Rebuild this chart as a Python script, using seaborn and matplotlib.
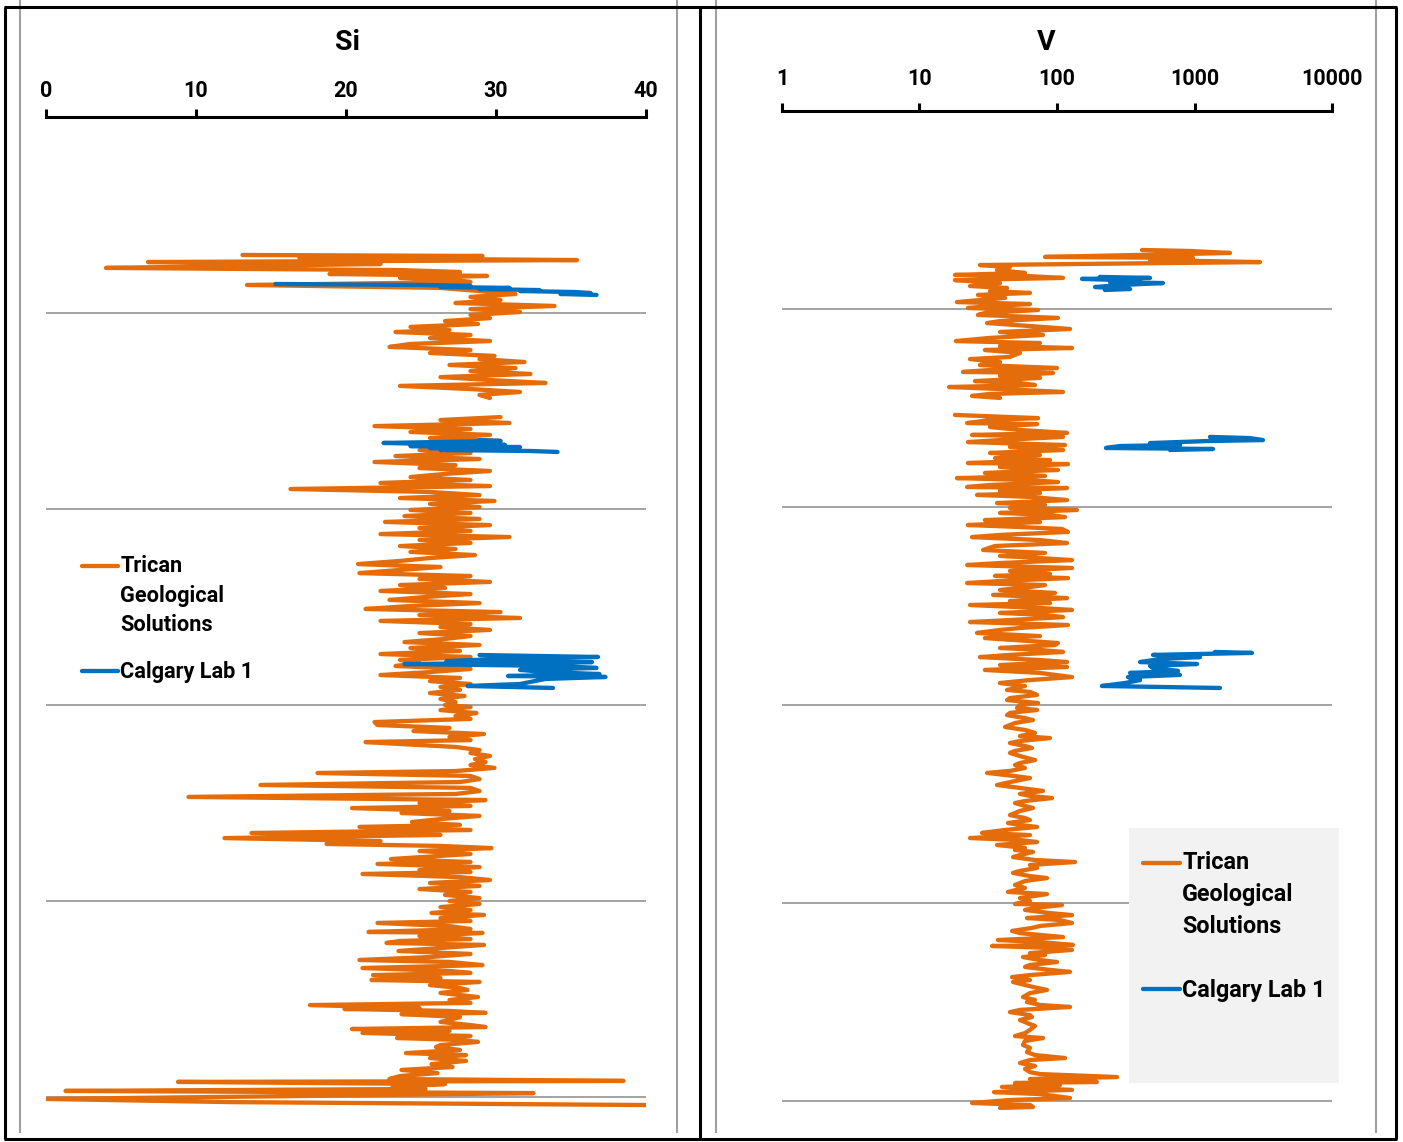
import numpy as np
import pandas as pd
import matplotlib
matplotlib.use("Agg")
import matplotlib.pyplot as plt
import seaborn as sns
from matplotlib.lines import Line2D
from matplotlib.patches import Rectangle
from matplotlib.legend_handler import HandlerLine2D
from matplotlib.ticker import NullLocator

nan = np.nan

# ---------------- data (depth, unitless) ----------------
series_names = ["Trican\nGeological\nSolutions", "Calgary Lab 1"]

si_ticks = [0, 10, 20, 30, 40]
v_ticks = [1, 10, 100, 1000, 10000]
depth_grid = [100, 200, 300, 400, 500]

si_tgs_depth = [
    70.4, 70.9, 71.9, 73.0, 74.0, 75.0, 76.0, 77.0, 78.1, 79.1,
    80.1, 81.1, 82.1, 83.2, 84.2, 85.7, 87.2, 88.8, 90.3, 91.8,
    93.4, 94.9, 96.4, 98.0, 99.5, 101.0, 102.6, 104.1, 105.6, 107.1,
    108.7, 109.7, 111.2, 112.8, 114.3, 115.8, 117.3, 118.9, 120.4, 121.9,
    123.5, 125.0, 126.5, 128.1, 129.6, 131.1, 132.7, 134.2, 135.7, 137.2,
    138.8, 140.3, 141.8, 143.4, nan,
    153.1, 154.6, 156.1, 157.7, 159.2, 160.7, 162.2, 163.8, 165.3, 166.8,
    168.4, 169.9, 171.4, 173.0, 174.5, 176.0, 177.6, 179.1, 180.6, 182.1,
    183.7, 185.2, 186.7, 188.3, 189.8, 191.3, 192.9, 194.4, 195.9, 197.4,
    199.0, 200.5, 202.0, 203.6, 205.1, 206.6, 208.2, 209.7, 211.2, 212.8,
    214.3, 215.8, 217.3, 218.9, 220.4, 221.9, 223.5, 225.0, 226.5, 228.1,
    229.6, 231.1, 232.7, 234.2, 235.7, 237.2, 238.8, 240.3, 241.8, 243.4,
    244.9, 246.4, 248.0, 249.5, 251.0, 252.6, 254.1, 255.6, 257.1, 258.7,
    260.2, 261.7, 263.3, 264.8, 266.3, 267.9, 269.4, 270.9, 272.4, 274.0,
    275.5, 277.0, 278.6, 280.1, 281.6, 283.2, 284.7, 286.2, 287.8, 289.3,
    290.8, 292.3, 293.9, 295.4, 296.9, 298.5, 300.0, 301.0, 302.6, 304.1,
    305.6, 307.1, 308.7, 310.2, 311.7, 313.3, 314.8, 316.3, 317.9, 318.9,
    319.9, 321.4, 323.0, 324.5, 326.0, 327.6, 329.1, 330.6, 332.1, 333.7,
    334.7, 336.2, 337.8, 339.3, 340.8, 342.3, 343.9, 345.4, 346.9, 348.5,
    350.0, 351.5, 352.6, 354.1, 355.1, 356.6, 358.2, 359.7, 361.2, 362.2,
    363.8, 365.3, 366.3, 367.9, 369.4, 370.9, 371.9, 373.0, 374.5, 376.0,
    377.0, 378.6, 380.1, 381.1, 382.7, 384.2, 385.2, 386.2, 387.8, 389.3,
    390.8, 392.3, 393.9, 395.4, 396.9, 398.5, 400.0, 401.5, 403.1, 404.6,
    406.1, 407.1, 408.7, 410.2, 411.2, 412.8, 414.3, 415.8, 416.3, 417.9,
    419.4, 420.4, 421.4, 422.4, 424.0, 425.5, 427.0, 428.6, 430.1, 431.1,
    432.7, 434.2, 435.7, 436.7, 437.8, 439.3, 440.3, 441.3, 442.9, 444.4,
    445.4, 446.9, 449.0, 450.5, 452.0, 453.1, 454.6, 455.1, 456.1, 457.1,
    457.7, 459.2, 460.7, 461.7, 463.3, 464.3, 465.3, 466.3, 467.3, 468.9,
    469.9, 470.9, 471.9, 473.5, 474.5, 476.0, 477.6, 478.6, 480.1, 481.6,
    483.2, 484.7, 486.2, 487.8, 489.3, 490.8, 491.8, 492.3, 493.4, 494.9,
    495.9, 496.9, 498.0, 499.5, 501.0, 502.6, 504.1,
]
si_tgs = [
    13.1, 29.1, 16.9, 35.4, 6.8, 22.3, 12.9, 4.0, 23.6, 27.6,
    18.9, 29.4, 23.6, 27.3, 28.3, 13.4, 26.3, 28.9, 31.3, 28.3,
    30.3, 27.3, 33.9, 28.3, 31.6, 28.3, 29.6, 26.6, 28.8, 24.3,
    26.9, 23.3, 28.3, 25.6, 29.6, 24.3, 22.9, 28.3, 25.6, 29.9,
    28.9, 31.9, 26.9, 31.3, 28.3, 32.3, 26.3, 29.6, 33.3, 23.6,
    28.3, 31.6, 28.9, 29.6, nan,
    30.3, 26.3, 30.9, 21.9, 28.3, 24.3, 29.6, 25.6, 30.3, 24.3,
    27.6, 24.9, 28.3, 23.3, 28.9, 21.9, 27.3, 24.9, 29.6, 26.6,
    24.3, 28.3, 22.3, 29.6, 16.3, 25.6, 28.9, 23.6, 29.9, 25.6,
    28.9, 24.3, 28.3, 23.9, 28.9, 22.6, 29.6, 24.9, 28.3, 22.3,
    30.9, 24.9, 28.3, 23.6, 27.3, 24.3, 28.6, 25.6, 23.6, 20.8,
    26.3, 23.6, 20.9, 28.3, 24.9, 29.6, 23.6, 26.6, 22.3, 28.3,
    25.3, 22.9, 28.9, 24.3, 21.3, 30.3, 24.9, 31.6, 22.3, 28.3,
    26.3, 29.6, 24.9, 28.3, 26.6, 23.9, 28.9, 24.3, 27.6, 22.3,
    28.3, 23.6, 24.9, 23.3, 28.3, 25.6, 22.3, 27.6, 25.6, 28.3,
    26.3, 27.6, 25.6, 27.9, 26.3, 27.3, 26.6, 28.3, 26.3, 28.7,
    27.3, 28.3, 21.9, 22.1, 26.9, 24.5, 29.2, 26.9, 28.3, 21.3,
    23.6, 27.3, 28.9, 28.3, 29.6, 28.6, 29.3, 28.3, 29.9, 27.3,
    18.1, 28.3, 28.9, 27.6, 14.3, 28.3, 28.9, 27.3, 9.5, 29.3,
    24.9, 28.3, 20.4, 26.9, 23.7, 28.9, 26.3, 24.4, 27.6, 20.9,
    28.3, 13.7, 26.3, 11.9, 22.3, 18.7, 26.3, 29.7, 24.9, 28.3,
    26.3, 23.0, 28.3, 22.1, 28.9, 24.9, 28.3, 21.1, 27.6, 29.6,
    25.6, 28.9, 24.9, 28.3, 26.6, 28.9, 26.9, 28.9, 26.3, 28.3,
    25.7, 29.2, 26.3, 28.3, 22.1, 26.9, 28.3, 21.5, 29.1, 24.9,
    28.3, 23.6, 22.7, 29.2, 26.3, 23.5, 28.3, 25.6, 20.9, 26.9,
    29.1, 21.1, 26.9, 28.3, 21.8, 26.3, 21.7, 28.9, 25.6, 27.6,
    28.1, 26.3, 28.8, 26.9, 28.3, 17.6, 24.9, 19.9, 26.9, 29.3,
    23.7, 27.6, 26.9, 26.3, 28.3, 29.3, 20.4, 26.9, 21.1, 28.3,
    23.4, 27.6, 28.8, 26.3, 26.0, 27.6, 24.0, 28.0, 25.6, 28.0,
    25.7, 27.1, 23.7, 26.1, 23.6, 22.9, 38.5, 8.8, 26.6, 23.1,
    25.3, 1.3, 32.5, 16.9, 0.0, 12.3, 40.0,
]

si_lab_depth = [
    85.2, 85.7, 86.2, 86.7, 87.2, 87.8, 88.3, 88.8, 89.3, 89.8, 90.3, 90.8, nan,
    164.8, 165.3, 166.3, 166.8, 167.3, 167.9, 168.4, 168.9, 169.4, 169.9, 170.4, 170.9, nan,
    274.5, 275.5, 276.5, 277.6, 278.1, 279.1, 280.1, 281.1, 282.1, 283.2, 284.2, 285.2,
    285.7, 286.7, 289.3, 290.3, 291.3,
]
si_lab = [
    15.3, 24.9, 28.3, 26.3, 30.9, 28.9, 32.9, 31.6, 35.3, 36.3, 34.3, 36.7, nan,
    28.9, 30.3, 22.5, 25.6, 30.6, 24.3, 31.6, 25.6, 30.9, 26.3, 32.3, 34.1, nan,
    28.9, 36.8, 30.3, 26.7, 36.4, 23.9, 34.3, 36.7, 31.6, 33.4, 36.9, 30.8,
    37.3, 33.3, 31.6, 28.1, 33.8,
]

v_tgs_depth = [
    70.2, 70.7, 71.7, 72.7, 73.7, 74.2, 75.3, 76.3, 77.8, 78.8,
    80.3, 81.8, 82.8, 83.3, 84.3, 85.4, 86.9, 88.4, 89.4, 90.9,
    91.9, 92.9, 94.4, 96.5, 97.5, 98.5, 99.5, 100.5, 102.0, 103.0,
    104.5, 106.1, 107.1, 108.6, 110.1, 111.6, 113.1, 114.6, 116.2, 117.2,
    118.7, 119.7, 120.7, 122.2, 124.2, 125.3, 126.8, 128.3, 129.8, 130.8,
    131.8, 132.3, 133.8, 134.8, 136.4, 137.4, 138.4, 139.4, 140.4, 141.9,
    142.9, 143.9, 144.9, nan,
    153.5, 154.0, 155.1, 156.1, 157.6, 158.1, 159.6, 161.1, 162.6, 163.6,
    164.6, 166.2, 167.2, 168.7, 169.7, 171.2, 172.7, 173.7, 175.3, 176.3,
    177.8, 178.3, 179.8, 181.3, 182.8, 184.3, 185.4, 186.4, 187.4, 188.9,
    189.9, 190.4, 191.9, 192.9, 193.9, 194.9, 196.5, 198.0, 199.0, 200.5,
    201.5, 203.0, 204.0, 205.1, 206.6, 207.6, 209.1, 210.1, 211.1, 212.6,
    214.1, 215.2, 216.7, 218.2, 219.7, 221.7, 223.2, 224.7, 225.8, 226.8,
    228.3, 229.3, 230.8, 232.3, 233.8, 234.8, 235.9, 237.4, 238.4, 239.4,
    240.4, 241.9, 243.4, 244.4, 246.0, 247.5, 248.5, 249.5, 251.0, 252.0,
    253.5, 254.5, 255.6, 257.1, 258.1, 259.6, 261.1, 262.1, 263.6, 265.2,
    266.2, 267.7, 268.7, 269.7, 271.2, 272.2, 273.2, 274.7, 275.8, 277.3,
    278.3, 279.8, 280.8, 282.3, 283.8, 285.9, 287.4, 288.9, 290.4, 292.4,
    293.4, 294.9, 296.5, 297.5, 299.0, 300.0, 301.5, 302.5, 304.0, 305.1,
    306.6, 307.6, 309.1, 311.1, 312.6, 314.1, 315.7, 316.7, 318.2, 319.2,
    320.7, 321.7, 323.2, 324.2, 325.8, 327.8, 329.3, 330.3, 331.8, 333.3,
    334.3, 335.9, 336.9, 338.4, 340.4, 341.9, 343.4, 344.9, 345.9, 347.0,
    348.5, 349.5, 351.0, 352.0, 353.5, 355.6, 357.1, 358.1, 359.6, 360.6,
    361.6, 363.1, 364.6, 365.7, 367.2, 368.2, 369.2, 370.7, 372.2, 373.2,
    374.2, 375.8, 376.8, 378.3, 379.3, 380.8, 382.3, 383.8, 384.8, 386.4,
    387.4, 388.9, 390.9, 392.4, 394.4, 395.5, 397.5, 399.0, 400.5, 401.0,
    402.5, 403.5, 405.1, 406.1, 407.6, 408.6, 410.1, 411.6, 412.6, 414.1,
    415.2, 417.2, 418.7, 419.7, 421.2, 421.7, 422.7, 423.7, 425.3, 426.3,
    427.3, 428.8, 429.8, 431.3, 432.3, 433.8, 434.8, 436.4, 437.4, 438.9,
    439.9, 441.4, 442.4, 443.9, 445.5, 447.5, 449.0, 450.0, 451.5, 452.5,
    454.0, 455.1, 456.6, 457.6, 459.1, 460.6, 462.1, 464.1, 465.7, 467.2,
    468.2, 469.7, 471.7, 473.2, 475.3, 476.8, 478.3, 479.3, 480.8, 482.3,
    483.8, 485.4, 486.4, 487.9, 488.9, 490.4, 490.9, 491.9, 492.9, 494.4,
    495.5, 496.5, 498.5, 499.5, 501.0, 502.0, 503.0, 503.5,
]
v_tgs = [
    415, 927, 1811, 402, 81.8, 975, 475, 2994, 27.5, 45.5,
    36.6, 58.5, 18.1, 58.5, 110.6, 18.1, 38.5, 23.3, 43.3, 32.6,
    63.6, 26.6, 41.9, 18.7, 63.6, 32.6, 22.5, 72.8, 29.9, 26.6,
    101.7, 38.5, 31.0, 63.6, 124.4, 38.5, 79.1, 32.6, 18.4, 75.2,
    38.5, 128.5, 29.9, 53.8, 45.5, 23.3, 38.5, 27.5, 100, 32.6,
    20.7, 93.5, 38.5, 75.2, 25.3, 53.8, 69.2, 16.4, 38.5, 110.6,
    32.6, 24.1, 38.5, nan,
    18.1, 27.5, 72.8, 32.6, 22.2, 71.6, 32.6, 53.8, 118.3, 24.1,
    110.6, 38.5, 22.5, 114.4, 45.5, 110.6, 32.6, 75.2, 35.4, 89.0,
    22.5, 120.2, 38.5, 101.7, 29.9, 81.8, 18.7, 63.6, 101.7, 32.6,
    22.2, 118.3, 38.5, 75.2, 26.2, 63.6, 118.3, 36.6, 81.8, 45.5,
    139.6, 38.5, 89.0, 114.4, 29.9, 75.2, 22.5, 53.8, 108.7, 120.2,
    38.5, 24.1, 75.2, 118.3, 35.4, 29.0, 81.8, 38.5, 75.2, 128.5,
    38.5, 22.2, 128.5, 45.5, 89.0, 35.4, 120.2, 38.5, 22.2, 81.8,
    63.6, 38.5, 96.7, 34.3, 118.3, 45.5, 89.0, 23.3, 75.2, 128.5,
    38.5, 81.8, 110.6, 45.5, 23.3, 120.2, 53.8, 38.5, 26.2, 75.2,
    29.9, 63.6, 101.7, 96.7, 38.5, 75.2, 110.6, 45.5, 27.5, 75.2,
    118.3, 38.5, 118.3, 29.9, 75.2, 128.5, 63.6, 38.5, 58.5, 43.3,
    63.6, 71.6, 45.5, 43.3, 72.8, 53.8, 51.2, 71.6, 45.5, 43.3,
    58.5, 66.9, 49.5, 41.9, 58.5, 69.2, 53.8, 89.0, 53.8, 45.5,
    58.5, 65.8, 49.5, 45.5, 53.8, 69.2, 53.8, 49.5, 58.5, 45.5,
    31.0, 49.5, 63.6, 49.5, 36.6, 53.8, 79.1, 53.8, 63.6, 92.0,
    58.5, 49.5, 58.5, 66.9, 53.8, 45.5, 58.5, 63.6, 44.0, 53.8,
    71.6, 41.9, 28.5, 63.6, 23.3, 53.8, 71.6, 36.6, 58.5, 49.5,
    66.9, 53.8, 47.9, 69.2, 135.2, 63.6, 71.6, 53.8, 47.9, 63.6,
    84.6, 58.5, 49.5, 58.5, 44.0, 84.6, 53.8, 63.6, 49.5, 108.7,
    69.2, 58.5, 89.0, 128.5, 60.5, 105.2, 128.5, 75.2, 65.8, 47.1,
    53.8, 110.6, 37.2, 75.2, 130.6, 33.7, 89.0, 128.5, 63.6, 81.8,
    56.6, 75.2, 100, 63.6, 58.5, 89.0, 124.4, 63.6, 47.1, 63.6,
    47.9, 58.5, 66.9, 84.6, 63.6, 56.6, 69.2, 60.5, 75.2, 124.4,
    53.8, 45.5, 63.6, 65.8, 53.8, 60.5, 69.2, 63.6, 58.5, 49.5,
    79.1, 58.5, 56.6, 63.6, 60.5, 69.2, 114.4, 63.6, 53.8, 69.2,
    58.5, 63.6, 75.2, 273, 63.6, 195, 49.5, 105.2, 39.8, 128.5,
    34.8, 75.2, 124.4, 45.5, 24.1, 63.6, 66.9, 38.5,
]

v_lab_depth = [
    83.8, 84.3, 84.8, 85.4, 85.9, 86.4, 86.9, 87.9, 88.9, 89.9, 90.4, nan,
    164.6, 165.2, 166.2, 166.7, 167.7, 168.7, 169.2, 170.2, 170.7, 171.2, nan,
    273.2, 273.7, 274.7, 275.8, 276.8, 278.3, 279.3, 280.3, 281.3, 282.8, 283.8,
    284.8, 285.9, 287.4, 288.9, 290.4, 291.4,
]
v_lab = [
    205, 475, 152, 287, 402, 243, 590, 287, 189, 340, 223, nan,
    1297, 2535, 3148, 1233, 475, 784, 287, 227, 1364, 663, nan,
    1409, 2620, 499, 1097, 561, 402, 1043, 475, 499, 759, 340,
    784, 328, 402, 312, 212, 1531,
]

# ---------------- styling ----------------
sns.set_theme(style="white")
FONT = ["Roboto", "DejaVu Sans"]
plt.rcParams["font.family"] = FONT
plt.rcParams["font.weight"] = "bold"
plt.rcParams["text.color"] = "black"
plt.rcParams["xtick.color"] = "black"
plt.rcParams["axes.labelcolor"] = "black"

ORANGE = "#E46C0A"
BLUE = "#0070C0"
GRID = "#8a8a8a"
LW = 3.1

W, H = 1403, 1142
fig = plt.figure(figsize=(W / 100, H / 100), dpi=100)
fig.patch.set_facecolor("white")


def fx(x):
    return x / W


def fy(y):
    return 1 - y / H


def make_df(depth, vals, name):
    d = np.asarray(depth, float)
    v = np.asarray(vals, float)
    seg = np.cumsum(np.isnan(d))
    m = ~np.isnan(d)
    return pd.DataFrame({"depth": d[m], "value": v[m], "source": name, "seg": seg[m]})


palette = {series_names[0]: ORANGE, series_names[1]: BLUE}
YMAX = 506


def panel(ax, df, ticks, labels, pad, log=False):
    sns.lineplot(data=df, x="value", y="depth", hue="source", units="seg",
                 estimator=None, sort=False, palette=palette, linewidth=LW,
                 legend=False, ax=ax, solid_capstyle="round", solid_joinstyle="round")
    if log:
        ax.set_xscale("log")
    ax.set_xlim(ticks[0], ticks[-1])
    ax.set_ylim(YMAX, 0)
    ax.set_xticks(ticks)
    ax.set_xticklabels(labels)
    if log:
        ax.xaxis.set_minor_locator(NullLocator())
    ax.set_yticks(depth_grid)
    ax.set_xlabel("")
    ax.set_ylabel("")
    ax.set_facecolor("none")
    for s in ["left", "right", "bottom"]:
        ax.spines[s].set_visible(False)
    ax.spines["top"].set_visible(True)
    ax.spines["top"].set_color("black")
    ax.spines["top"].set_linewidth(2.2)
    ax.xaxis.set_ticks_position("top")
    ax.tick_params(axis="x", which="major", direction="out", length=6, width=2.2,
                   top=True, bottom=False, labeltop=True, labelbottom=False,
                   labelsize=15.5, pad=pad)
    ax.tick_params(axis="y", length=0, labelleft=False)
    ax.grid(False)
    ax.yaxis.grid(True, color=GRID, linewidth=1.1)
    ax.set_axisbelow(True)
    for t in ax.get_xticklabels():
        t.set_fontweight("bold")


# left panel (Si)
ax1 = fig.add_axes([fx(46), fy(117 + YMAX * 1.96), 600 / W, YMAX * 1.96 / H])
df_si = pd.concat([make_df(si_tgs_depth, si_tgs, series_names[0]),
                   make_df(si_lab_depth, si_lab, series_names[1])], ignore_index=True)
panel(ax1, df_si, si_ticks, [str(t) for t in si_ticks], pad=5)

# right panel (V)
ax2 = fig.add_axes([fx(782), fy(111 + YMAX * 1.98), 550 / W, YMAX * 1.98 / H])
df_v = pd.concat([make_df(v_tgs_depth, v_tgs, series_names[0]),
                  make_df(v_lab_depth, v_lab, series_names[1])], ignore_index=True)
panel(ax2, df_v, v_ticks, [str(t) for t in v_ticks], pad=9, log=True)

# titles
fig.text(fx(347), fy(43), "Si", ha="center", va="center", fontsize=20.5, fontweight="bold")
fig.text(fx(1046), fy(43), "V", ha="center", va="center", fontsize=20.5, fontweight="bold")


# frame decorations (table / chart borders)
def fline(x0, y0, x1, y1, color, lw):
    fig.add_artist(Line2D([fx(x0), fx(x1)], [fy(y0), fy(y1)], transform=fig.transFigure,
                          color=color, linewidth=lw, solid_capstyle="butt"))


FRAME = "#a0a0a0"
for xg in (20, 677, 716, 1376):
    fline(xg, 0, xg, 1133, FRAME, 1.5)
fline(4, 7, 1397, 7, "black", 2.2)
fline(4, 1139, 1397, 1139, "black", 2.2)
for xb in (5, 700, 1396):
    fline(xb, 7, xb, 1139, "black", 2.2)

# right legend background
fig.add_artist(Rectangle((fx(1129), fy(1083)), (1339 - 1129) / W, (1083 - 828) / H,
                         transform=fig.transFigure, facecolor="#f2f2f2",
                         edgecolor="none", zorder=1))


class ShiftedLine(HandlerLine2D):
    def __init__(self, shift_pt, **kw):
        super().__init__(**kw)
        self.shift_pt = shift_pt

    def create_artists(self, legend, orig_handle, xdescent, ydescent, width, height,
                       fontsize, trans):
        arts = super().create_artists(legend, orig_handle, xdescent, ydescent, width,
                                      height, fontsize, trans)
        for a in arts:
            a.set_ydata(np.asarray(a.get_ydata(), float) + self.shift_pt)
        return arts


def add_legend(x_px, y_px, fs, line_px, ls, lsp, hl, htp):
    h1 = Line2D([], [], color=ORANGE, linewidth=LW)
    h2 = Line2D([], [], color=BLUE, linewidth=LW)
    leg = fig.legend([h1, h2], series_names, loc="upper left",
                     bbox_to_anchor=(fx(x_px), fy(y_px)), bbox_transform=fig.transFigure,
                     frameon=False, borderpad=0, borderaxespad=0, handlelength=hl,
                     handletextpad=htp, labelspacing=lsp,
                     prop={"family": FONT, "weight": "bold", "size": fs},
                     handler_map={h1: ShiftedLine(line_px * 0.72)})
    for t in leg.get_texts():
        t.set_linespacing(ls)
    leg.set_zorder(5)
    return leg


add_legend(82, 555, 15.7, 31, 1.45, 1.15, 1.66, 0.1)
add_legend(1143, 851, 16.8, 33, 1.51, 1.75, 1.58, 0.1)

fig.savefig("out.png", dpi=100, facecolor="white")
